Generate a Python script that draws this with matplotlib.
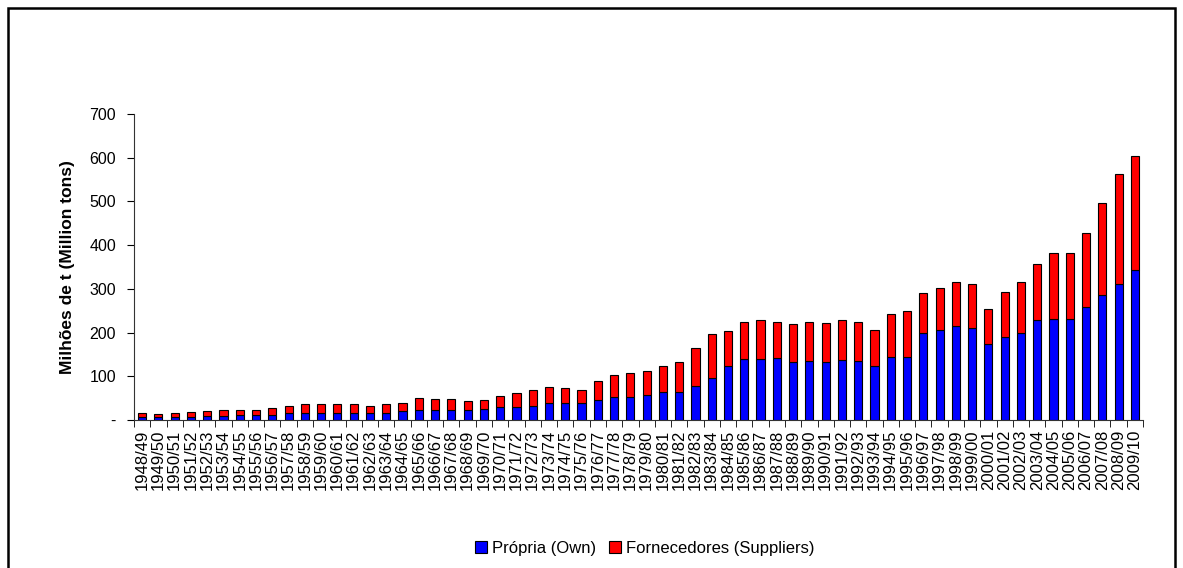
import matplotlib
matplotlib.use("Agg")
import matplotlib.pyplot as plt
from matplotlib.patches import Rectangle

plt.rcParams['font.family'] = ['Liberation Sans', 'DejaVu Sans']

safras = [
    '1948/49', '1949/50', '1950/51', '1951/52', '1952/53', '1953/54', '1954/55', '1955/56',
    '1956/57', '1957/58', '1958/59', '1959/60', '1960/61', '1961/62', '1962/63', '1963/64',
    '1964/65', '1965/66', '1966/67', '1967/68', '1968/69', '1969/70', '1970/71', '1971/72',
    '1972/73', '1973/74', '1974/75', '1975/76', '1976/77', '1977/78', '1978/79', '1979/80',
    '1980/81', '1981/82', '1982/83', '1983/84', '1984/85', '1985/86', '1986/87', '1987/88',
    '1988/89', '1989/90', '1990/91', '1991/92', '1992/93', '1993/94', '1994/95', '1995/96',
    '1996/97', '1997/98', '1998/99', '1999/00', '2000/01', '2001/02', '2002/03', '2003/04',
    '2004/05', '2005/06', '2006/07', '2007/08', '2008/09', '2009/10',
]

# totals (million t)
total = [
    15, 13, 15, 18, 20, 23, 23, 23, 27, 31, 36, 36, 36, 36, 33, 36,
    40, 50, 49, 49, 43, 46, 56, 61, 69, 76, 74, 69, 90, 104, 107, 112,
    124, 133, 165, 196, 203, 224, 229, 224, 219, 224, 221, 229, 224, 206,
    242, 249, 290, 303, 315, 310, 254, 292, 315, 356, 381, 381, 427, 497, 563, 604,
]

propria = [
    8, 7, 8, 7, 10, 9, 12, 11, 11, 15, 17, 17, 17, 17, 16, 17,
    20, 22, 22, 22, 22, 26, 30, 30, 33, 38, 38, 38, 46, 53, 53, 58,
    65, 65, 78, 96, 124, 139, 139, 141, 132, 135, 132, 137, 135, 124,
    144, 144, 200, 205, 215, 210, 173, 190, 200, 228, 231, 231, 259, 285, 312, 342,
]

fornecedores = [t - p for t, p in zip(total, propria)]

fig = plt.figure(figsize=(11.83, 5.68), dpi=100)

# outer frame
fig.patches.append(Rectangle((8 / 1183, -0.01), 1167 / 1183, 1 - 8 / 568 + 0.01,
                             transform=fig.transFigure, fill=False,
                             edgecolor='black', linewidth=1.8))

ax = fig.add_axes([134 / 1183, 1 - 420 / 568, 1009 / 1183, 306 / 568])

x = list(range(len(safras)))
ax.bar(x, propria, width=0.5, color='#0000FF', edgecolor='black', linewidth=0.8,
       label='Própria (Own)')
ax.bar(x, fornecedores, width=0.5, bottom=propria, color='#FF0000', edgecolor='black',
       linewidth=0.8, label='Fornecedores (Suppliers)')

ax.set_xlim(-0.5, len(safras) - 0.5)
ax.set_ylim(0, 700)
ax.set_yticks(range(0, 701, 100))
ax.set_yticklabels(['-'] + [str(v) for v in range(100, 701, 100)], fontsize=11.5)

ax.set_xticks(x)
ax.set_xticklabels(safras, rotation=90, fontsize=12)
ax.set_xticks([i - 0.5 for i in range(len(safras) + 1)], minor=True)
ax.tick_params(axis='x', which='major', length=0, pad=7)
ax.tick_params(axis='x', which='minor', length=5, direction='out', color='black')
ax.tick_params(axis='y', length=5, direction='out', pad=8)

for s in ['top', 'right']:
    ax.spines[s].set_visible(False)
ax.spines['left'].set_color('#333333')
ax.spines['bottom'].set_color('#333333')

ax.set_ylabel('Milhões de t (Million tons)', fontsize=12.5, fontweight='bold', labelpad=10)

fig.legend(loc='center', bbox_to_anchor=(645 / 1183, 1 - 548 / 568), ncol=2, frameon=False,
           fontsize=12, handlelength=0.7, handleheight=0.7, handletextpad=0.3,
           columnspacing=0.8)

fig.savefig('out.png', dpi=100)
